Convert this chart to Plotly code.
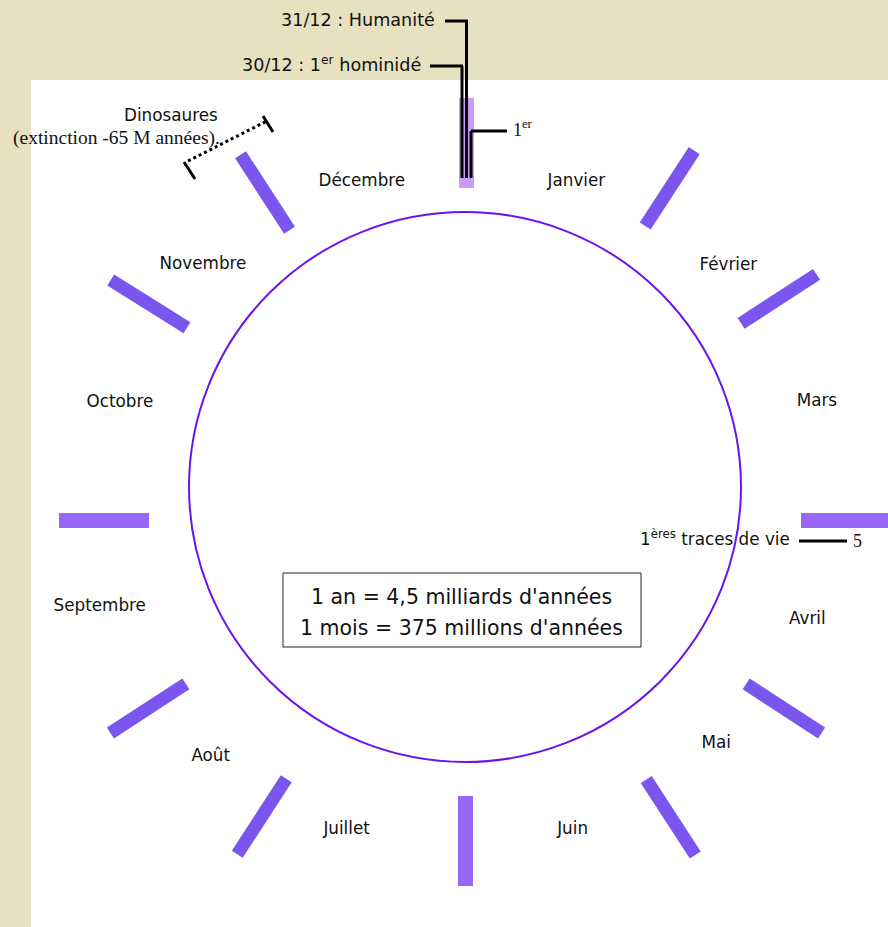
import math
import plotly.graph_objects as go

# ---------------- data ----------------
months = ["Janvier", "Février", "Mars", "Avril", "Mai", "Juin",
          "Juillet", "Août", "Septembre", "Octobre", "Novembre", "Décembre"]
label_angle = [19, 48, 74, 109, 134, 162, 200, 225, 254, 286, 312, 342]      # degrees, clockwise from top
label_radius = [339, 353, 365, 361, 348, 345, 349, 361, 381, 360, 354, 337]

# slanted (hand-drawn) month separators
tick_angle = [33, 57, 123, 147, 213, 237, 302, 327]
tick_r_in = [329, 328, 334, 331, 330, 334, 329, 324]
tick_len = 90

center = (466, 502)
circle_box = (189, 212, 741, 762)

scale_lines = ["1 an = 4,5 milliards d'années", "1 mois = 375 millions d'années"]

# ---------------- figure ----------------
W, H = 888, 927
fig = go.Figure()

def polar(a, r):
    return center[0] + r * math.sin(math.radians(a)), center[1] - r * math.cos(math.radians(a))

tx, ty = [], []
for a, r in zip(tick_angle, tick_r_in):
    x0, y0 = polar(a, r)
    x1, y1 = polar(a, r + tick_len)
    tx += [x0, x1, None]
    ty += [y0, y1, None]
fig.add_trace(go.Scatter(x=tx, y=ty, mode="lines",
                         line=dict(color="#7a56ee", width=13),
                         hoverinfo="skip", showlegend=False))

lx, ly = zip(*[polar(a, r) for a, r in zip(label_angle, label_radius)])
fig.add_trace(go.Scatter(x=lx, y=ly, mode="text", text=months,
                         textposition="middle center",
                         textfont=dict(family="DejaVu Sans", size=16.8, color="#111111"),
                         hoverinfo="skip", showlegend=False))

shapes = []
# white page
shapes.append(dict(type="rect", x0=31, x1=W + 5, y0=80, y1=H + 5,
                   fillcolor="white", line=dict(width=0), layer="below"))
# straight separators (3, 6, 9 o'clock) and top
straight_col = "#9966fa"
shapes.append(dict(type="rect", x0=801, x1=W + 5, y0=513, y1=528, fillcolor=straight_col, line=dict(width=0)))
shapes.append(dict(type="rect", x0=59, x1=149, y0=513, y1=528, fillcolor=straight_col, line=dict(width=0)))
shapes.append(dict(type="rect", x0=458, x1=473, y0=796, y1=886, fillcolor=straight_col, line=dict(width=0)))
shapes.append(dict(type="rect", x0=459, x1=474, y0=98, y1=188, fillcolor="#c89cf8", line=dict(width=0)))
# circle
shapes.append(dict(type="circle", x0=circle_box[0], y0=circle_box[1], x1=circle_box[2], y1=circle_box[3],
                   line=dict(color="#6a14f0", width=2)))
# scale box
shapes.append(dict(type="rect", x0=283, x1=641, y0=573, y1=647, fillcolor="white",
                   line=dict(color="#222222", width=1)))

blk = dict(color="black", width=3)
# Humanité connector
shapes.append(dict(type="line", x0=445, x1=468, y0=21, y1=21, line=blk))
shapes.append(dict(type="line", x0=466.5, x1=466.5, y0=21, y1=178, line=blk))
# hominidé connector
shapes.append(dict(type="line", x0=430, x1=463, y0=66, y1=66, line=blk))
shapes.append(dict(type="line", x0=462, x1=462, y0=66, y1=178, line=blk))
# 1er connector
shapes.append(dict(type="line", x0=471, x1=507, y0=131, y1=131, line=blk))
shapes.append(dict(type="line", x0=471, x1=471, y0=131, y1=178, line=blk))
# traces de vie connector
shapes.append(dict(type="line", x0=799, x1=847, y0=541, y1=541, line=blk))
# dinosaur bracket
shapes.append(dict(type="line", x0=188, x1=267, y0=161, y1=121, line=dict(color="black", width=3, dash="dot")))
shapes.append(dict(type="line", x0=184, x1=195, y0=162, y1=179, line=blk))
shapes.append(dict(type="line", x0=263, x1=273, y0=116, y1=132, line=blk))

ann = []
sans = dict(family="DejaVu Sans", size=16.8, color="#111111")
top = dict(family="DejaVu Sans", size=17.6, color="#111111")
serif = dict(family="Liberation Serif", size=18, color="#111111")
ann.append(dict(x=437, y=20, text="31/12 : Humanité", xanchor="right", yanchor="middle", font=top, showarrow=False))
ann.append(dict(x=423, y=64, text="30/12 : 1<sup>er</sup> hominidé", xanchor="right", yanchor="middle", font=top, showarrow=False))
ann.append(dict(x=511, y=128, text="1<sup>er</sup>", xanchor="left", yanchor="middle", font=serif, showarrow=False))
ann.append(dict(x=171, y=115, text="Dinosaures", xanchor="center", yanchor="middle", font=sans, showarrow=False))
ann.append(dict(x=11, y=138, text="(extinction -65 M années).", xanchor="left", yanchor="middle",
                font=dict(family="Liberation Serif", size=19.5, color="#111111"), showarrow=False))
ann.append(dict(x=792, y=538, text="1<sup>ères</sup> traces de vie", xanchor="right", yanchor="middle", font=sans, showarrow=False))
ann.append(dict(x=851, y=541, text="5", xanchor="left", yanchor="middle", font=serif, showarrow=False))
ann.append(dict(x=461, y=597, text=scale_lines[0], xanchor="center", yanchor="middle",
                font=dict(family="DejaVu Sans", size=20.5, color="#111111"), showarrow=False))
ann.append(dict(x=461, y=628, text=scale_lines[1], xanchor="center", yanchor="middle",
                font=dict(family="DejaVu Sans", size=20.5, color="#111111"), showarrow=False))

fig.update_layout(
    width=W, height=H,
    margin=dict(l=0, r=0, t=0, b=0),
    paper_bgcolor="#e8e1c0", plot_bgcolor="rgba(0,0,0,0)",
    xaxis=dict(range=[0, W], visible=False, fixedrange=True),
    yaxis=dict(range=[H, 0], visible=False, fixedrange=True),
    shapes=shapes, annotations=ann,
)

fig.write_html("out.html", config=dict(displayModeBar=False),
               post_script="document.body.style.margin='0';document.body.style.overflow='hidden';")
